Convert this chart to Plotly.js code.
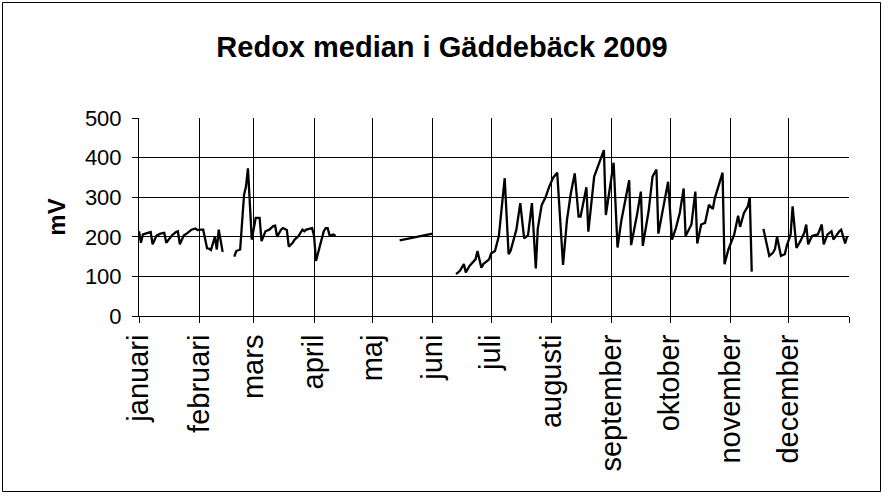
<!DOCTYPE html>
<html>
<head>
<meta charset="utf-8">
<script src="https://cdn.plot.ly/plotly-3.0.1.min.js"></script>
<style>
  html, body { margin: 0; padding: 0; background: #fff; }
  #chart { width: 888px; height: 498px; }
</style>
</head>
<body>
<div id="chart"></div>
<script>
// Day of year (2009) and median redox (mV); null marks a gap in the record
const dayOfYear = [
  1,2,3,5,7,8,10,12,14,15,18,20,21,22,24,26,28,30,31,33,34,36,37,38,40,41,42,44,
  47,
  50,51,53,55,56,57,59,60,61,63,64,66,68,70,71,72,74,75,77,78,80,81,83,85,86,87,89,90,91,92,94,96,97,98,99,101,102,
  120,
  135,138,141,144,147,150,152,
  158,
  164,166,168,169,171,174,175,177,178,181,182,184,186,189,191,192,195,197,199,201,203,205,206,208,210,212,214,216,219,221,223,225,227,228,231,232,235,240,241,245,247,249,253,254,257,259,260,263,265,267,268,271,273,275,277,279,281,282,285,287,288,290,292,294,296,297,301,302,304,307,309,310,312,314,315,316,
  319,
  322,325,327,328,329,331,333,334,336,337,339,341,343,344,345,347,350,352,353,355,357,358,361,362,364,365
];
const redoxMv = [
  214,185,206,210,212,181,203,208,210,185,204,212,214,181,203,210,218,221,217,218,218,171,170,167,200,168,218,162,
  null,
  150,164,168,306,327,373,193,218,248,248,189,214,218,227,228,200,218,222,217,175,185,193,202,218,214,218,221,222,202,139,177,214,222,222,203,206,202,
  null,
  191,194,197,200,203,206,208,
  null,
  106,114,131,110,127,143,164,122,131,143,158,164,202,348,156,164,218,285,196,204,285,120,220,280,300,328,350,362,129,242,310,360,251,251,325,213,352,419,255,387,173,242,343,179,255,314,177,265,352,370,208,293,339,193,222,260,322,202,231,314,183,231,235,281,270,297,362,131,168,206,253,225,260,277,300,112,
  null,
  220,152,160,170,200,152,156,177,206,277,172,189,210,231,181,202,206,231,181,206,214,193,214,218,183,200
];
const monthStarts = ['2009-01-01','2009-02-01','2009-03-01','2009-04-01','2009-05-01','2009-06-01',
  '2009-07-01','2009-08-01','2009-09-01','2009-10-01','2009-11-01','2009-12-01','2010-01-01'];
const monthNames = ['januari','februari','mars','april','maj','juni','juli','augusti',
  'september','oktober','november','december',''];
const yTicks = [0,100,200,300,400,500];

function doyToDate(d) {
  const t = new Date(Date.UTC(2009, 0, d));
  return t.toISOString().slice(0, 10);
}
const xDates = dayOfYear.map(doyToDate);

const W = 888, H = 498;
const M = {l: 139, r: 39, t: 118, b: 182};
const pw = W - M.l - M.r, ph = H - M.t - M.b;
const FONT = 'Liberation Sans, Arial, sans-serif';

const trace = {
  x: xDates, y: redoxMv, type: 'scatter', mode: 'lines',
  connectgaps: false,
  line: {color: '#000', width: 2.3},
  hoverinfo: 'x+y'
};

const layout = {
  width: W, height: H,
  margin: M,
  paper_bgcolor: '#fff', plot_bgcolor: '#fff',
  showlegend: false,
  font: {family: FONT, color: '#000'},
  title: {
    text: '<b>Redox median i Gäddebäck 2009</b>',
    font: {size: 29, family: FONT, color: '#000'},
    x: 442 / W, xref: 'container', xanchor: 'center',
    y: 1 - 47 / H, yref: 'container', yanchor: 'middle'
  },
  xaxis: {
    type: 'date',
    range: ['2009-01-01', '2010-01-01'],
    tickmode: 'array', tickvals: monthStarts, ticktext: monthNames,
    tickangle: -90,
    tickfont: {size: 29, family: FONT},
    ticks: 'outside', ticklen: 6, tickcolor: '#000', tickwidth: 1,
    showgrid: true, gridcolor: '#000', gridwidth: 1,
    showline: true, linecolor: '#000', linewidth: 1,
    zeroline: false, fixedrange: true
  },
  yaxis: {
    range: [0, 500],
    tickmode: 'array', tickvals: yTicks, ticktext: yTicks.map(String),
    tickfont: {size: 22, family: FONT},
    ticks: 'outside', ticklen: 6, tickcolor: '#000', tickwidth: 1,
    ticklabelstandoff: 6,
    showgrid: true, gridcolor: '#000', gridwidth: 1,
    showline: true, linecolor: '#000', linewidth: 1,
    zeroline: false, fixedrange: true,
    title: {text: '<b>mV</b>', font: {size: 24, family: FONT}, standoff: 12}
  },
  shapes: [{
    type: 'rect', xref: 'paper', yref: 'paper',
    x0: (2.5 - M.l) / pw, x1: (880.5 - M.l) / pw,
    y0: (H - M.b - 491.5) / ph, y1: (H - M.b - 2.5) / ph,
    line: {color: '#000', width: 1}, fillcolor: 'rgba(0,0,0,0)', layer: 'below'
  }]
};

Plotly.newPlot('chart', [trace], layout, {displayModeBar: false, staticPlot: true});
</script>
</body>
</html>
